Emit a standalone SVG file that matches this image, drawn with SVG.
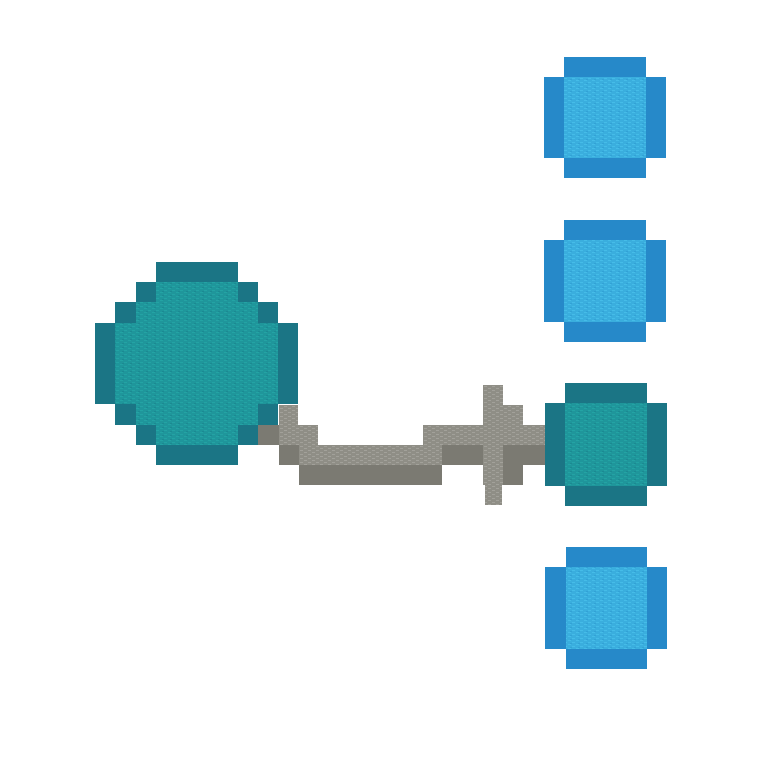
<svg xmlns="http://www.w3.org/2000/svg" width="761" height="761" viewBox="0 0 761 761">
<defs>
<pattern id="texT" width="8" height="4" patternUnits="userSpaceOnUse">
<rect width="8" height="4" fill="#1f969b"/>
<rect x="0" y="0" width="3" height="1" fill="#23a3a4"/>
<rect x="4" y="2" width="3" height="1" fill="#23a3a4"/>
<rect x="2" y="3" width="2" height="1" fill="#1b8a92"/>
</pattern>
<pattern id="texB" width="8" height="4" patternUnits="userSpaceOnUse">
<rect width="8" height="4" fill="#3aaede"/>
<rect x="0" y="0" width="3" height="1" fill="#45bce8"/>
<rect x="4" y="2" width="3" height="1" fill="#45bce8"/>
<rect x="2" y="3" width="2" height="1" fill="#32a2d6"/>
</pattern>
<pattern id="texG" width="8" height="4" patternUnits="userSpaceOnUse">
<rect width="8" height="4" fill="#8f8e86"/>
<rect x="0" y="0" width="3" height="1" fill="#a2a19a"/>
<rect x="4" y="2" width="3" height="1" fill="#a2a19a"/>
</pattern>
</defs>
<style>
.tb{fill:#1b7585}
.ti{fill:url(#texT)}
.bb{fill:#2689c9}
.bi{fill:url(#texB)}
.gl{fill:url(#texG)}
.gd{fill:#7b7a72}
</style>
<rect width="761" height="761" fill="#ffffff"/>
<g id="connectors">
<rect class="gd" x="258" y="425" width="21" height="20"/>
<rect class="gl" x="279" y="405" width="19" height="20"/>
<rect class="gl" x="279" y="425" width="39" height="20"/>
<rect class="gd" x="279" y="445" width="20" height="20"/>
<rect class="gl" x="299" y="445" width="143" height="20"/>
<rect class="gd" x="299" y="465" width="143" height="20"/>
<rect class="gl" x="423" y="425" width="122" height="20"/>
<rect class="gd" x="442" y="445" width="41" height="20"/>
<rect class="gd" x="503" y="445" width="42" height="20"/>
<rect class="gd" x="503" y="465" width="20" height="20"/>
<rect class="gl" x="483" y="385" width="20" height="20"/>
<rect class="gl" x="483" y="405" width="40" height="20"/>
<rect class="gl" x="483" y="445" width="20" height="40"/>
<rect class="gl" x="485" y="485" width="17" height="20"/>
</g>
<g id="source">
<rect class="tb" x="156" y="262" width="82" height="20"/>
<rect class="tb" x="136" y="282" width="122" height="20"/>
<rect class="tb" x="115" y="302" width="163" height="21"/>
<rect class="tb" x="95" y="323" width="203" height="81"/>
<rect class="tb" x="115" y="404" width="163" height="21"/>
<rect class="tb" x="136" y="425" width="122" height="20"/>
<rect class="tb" x="156" y="445" width="82" height="20"/>
<rect class="ti" x="156" y="282" width="82" height="20"/>
<rect class="ti" x="136" y="302" width="122" height="21"/>
<rect class="ti" x="115" y="323" width="163" height="81"/>
<rect class="ti" x="136" y="404" width="122" height="21"/>
<rect class="ti" x="156" y="425" width="82" height="20"/>
</g>
<g id="node1">
<rect class="bb" x="564" y="57" width="82" height="121"/>
<rect class="bb" x="544" y="77" width="122" height="81"/>
<rect class="bi" x="564" y="77" width="82" height="81"/>
</g>
<g id="node2">
<rect class="bb" x="564" y="220" width="82" height="122"/>
<rect class="bb" x="544" y="240" width="122" height="82"/>
<rect class="bi" x="564" y="240" width="82" height="82"/>
</g>
<g id="node3">
<rect class="tb" x="565" y="383" width="82" height="123"/>
<rect class="tb" x="545" y="403" width="122" height="83"/>
<rect class="ti" x="565" y="403" width="82" height="83"/>
</g>
<g id="node4">
<rect class="bb" x="566" y="547" width="81" height="122"/>
<rect class="bb" x="545" y="567" width="122" height="82"/>
<rect class="bi" x="566" y="567" width="81" height="82"/>
</g>
</svg>
